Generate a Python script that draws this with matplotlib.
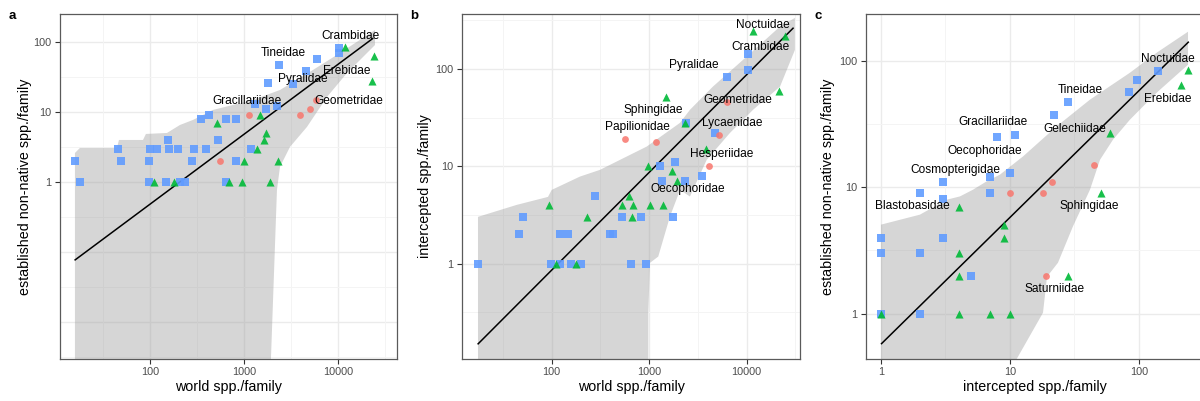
import numpy as np
import matplotlib
matplotlib.use("Agg")
import matplotlib.pyplot as plt
from matplotlib.ticker import FixedLocator, NullFormatter

plt.rcParams['font.family'] = ['Liberation Sans', 'DejaVu Sans']

BLUE = '#619CFF'
GREEN = '#00BA38'
RED = '#F8766D'

# ---------------- Panel a: world spp. vs established spp. ----------------
a_blue_x = [16, 18, 46, 49, 98, 98, 100, 120, 156, 160, 148, 200, 209, 238, 277, 296, 345, 394,
            525, 425, 638, 816, 1309, 1713, 2262, 816, 638, 1178, 1820, 2360, 3320, 4570, 6020,
            10200, 10200]
a_blue_y = [2, 1, 3, 2, 2, 1, 3, 3, 4, 3, 1, 3, 1, 1, 2, 3, 8, 3,
            4, 9, 8, 8, 13, 11, 12, 2, 1, 3, 26, 47, 25, 38, 57,
            81, 69]
a_green_x = [111, 180, 513, 1480, 690, 944, 1006, 1380, 1645, 1713, 2280, 1900, 11800, 24000, 23000]
a_green_y = [1, 1, 7, 9, 1, 1, 2, 3, 4, 5, 2, 1, 85, 64, 27.7]
a_red_x = [556, 1137, 3990, 5100, 5900]
a_red_y = [2, 9, 9, 11, 15]
a_labels = ['Crambidae', 'Tineidae', 'Pyralidae', 'Erebidae', 'Gracillariidae', 'Geometridae']
a_label_x = [13500, 2600, 4270, 12500, 1075, 12900]
a_label_y = [122, 70, 29.6, 38.9, 14.5, 14.5]
a_line_x = [16, 23400]
a_line_y = [0.077, 112]
# ribbon (log10 values)
a_rib_up_lx = [1.202, 1.255, 1.649, 1.670, 1.926, 1.957, 2.181, 2.319, 2.457, 2.67, 3.096, 3.383, 3.734, 4.021, 4.394]
a_rib_up_ly = [0.414, 0.486, 0.486, 0.6, 0.6, 0.686, 0.7, 0.814, 0.886, 1.029, 1.171, 1.314, 1.6, 1.843, 2.171]
a_rib_lo_lx = [1.202, 3.28, 3.287, 3.351, 3.383, 3.489, 3.670, 3.883, 4.096, 4.394]
a_rib_lo_ly = [-3.0, -3.0, -2.529, -0.114, 0.214, 0.5, 0.786, 1.214, 1.557, 1.957]

# ---------------- Panel b: world spp. vs intercepted spp. ----------------
b_blue_x = [17.4, 51, 46, 98, 122, 123, 148, 157, 200, 278, 530, 824, 1740, 396, 428, 646, 927,
            1343, 2330, 1290, 1860, 3450, 2380, 4730, 6240, 10400, 10400]
b_blue_y = [1, 3, 2, 1, 1, 2, 2, 1, 1, 5, 3, 3, 3, 2, 2, 1, 1,
            7, 7, 10, 11, 8, 28, 22, 83, 98, 142]
b_green_x = [93, 111, 177, 228, 625, 522, 676, 1018, 1396, 661, 1941, 979, 1700, 3800, 2330, 1475,
             11700, 24600, 21500]
b_green_y = [4, 1, 1, 3, 5, 4, 4, 4, 4, 3, 7, 10, 9, 15, 28, 52, 249, 218, 59]
b_red_x = [565, 1175, 4130, 5250, 6240]
b_red_y = [19, 18, 10, 21, 46]
b_labels = ['Noctuidae', 'Crambidae', 'Pyralidae', 'Geometridae', 'Sphingidae', 'Papilionidae',
            'Lycaenidae', 'Hesperiidae', 'Oecophoridae']
b_label_x = [14700, 14000, 2840, 8150, 1094, 759, 7060, 5590, 2500]
b_label_y = [283, 169, 110, 48, 37.9, 25.2, 27.7, 13.4, 5.8]
b_line_x = [17.6, 29900]
b_line_y = [0.15, 263]
b_rib_up_lx = [1.244, 1.641, 1.962, 2.0, 2.29, 2.495, 2.974, 3.316, 3.418, 3.654, 4.0, 4.342, 4.495]
b_rib_up_ly = [0.481, 0.604, 0.686, 0.758, 0.895, 0.964, 1.203, 1.447, 1.581, 1.82, 2.128, 2.437, 2.526]
b_rib_lo_lx = [1.244, 2.991, 2.991, 3.008, 3.093, 3.213, 3.317, 3.418, 3.59, 3.829, 4.065, 4.342, 4.495]
b_rib_lo_ly = [-1.2, -1.2, -0.5, 0.008, 0.073, 0.484, 0.758, 0.69, 1.067, 1.344, 1.581, 1.82, 2.197]

# ---------------- Panel c: intercepted spp. vs established spp. ----------------
c_blue_x = [1, 1, 1, 2, 2, 2, 3, 3, 5, 3, 7, 7, 8, 11, 10, 22, 28, 83, 96, 141]
c_blue_y = [1, 3, 4, 3, 1, 9, 8, 4, 2, 11, 12, 9, 25, 26, 13, 37, 47, 57, 70, 83]
c_green_x = [1, 4, 4, 4, 4, 7, 10, 9, 9, 28, 51, 60, 241, 210]
c_green_y = [1, 7, 3, 2, 1, 1, 1, 5, 4, 2, 9, 27, 85, 64]
c_red_x = [10, 18, 21, 45, 19]
c_red_y = [9, 9, 11, 15, 2]
c_labels = ['Noctuidae', 'Erebidae', 'Tineidae', 'Gelechiidae', 'Gracillariidae', 'Oecophoridae',
            'Cosmopterigidae', 'Blastobasidae', 'Sphingidae', 'Saturniidae']
c_label_x = [168, 167, 35, 32, 7.4, 6.4, 3.75, 1.74, 41, 22.3]
c_label_y = [103, 49.8, 59, 28.8, 32.5, 19.4, 13.7, 7.05, 7.05, 1.57]
c_line_x = [1.01, 241]
c_line_y = [0.58, 140]
c_rib_up_lx = [0.0, 0.302, 0.509, 0.612, 0.713, 0.819, 0.922, 1.101, 1.362, 1.620, 1.930, 2.137, 2.380]
c_rib_up_ly = [0.704, 0.783, 0.901, 0.927, 0.980, 1.046, 1.099, 1.243, 1.481, 1.692, 1.905, 2.063, 2.229]
c_rib_lo_lx = [0.0, 1.0, 1.052, 1.256, 1.287, 1.372, 1.488, 1.620, 1.698, 1.798, 1.930, 2.137, 2.380]
c_rib_lo_ly = [-0.6, -0.6, -0.358, 0.008, 0.292, 0.403, 0.690, 0.980, 1.217, 1.375, 1.534, 1.747, 1.968]

panels = [
    dict(tag='a', pos=[60, 397], xlim=(1.043, 4.628), ylim=(-2.53, 2.40),
         xticks=[100, 1000, 10000], yticks=[1, 10, 100],
         xlabel='world spp./family', ylabel='established non-native spp./family', ylx=25,
         blue=(a_blue_x, a_blue_y), green=(a_green_x, a_green_y), red=(a_red_x, a_red_y),
         labels=(a_labels, a_label_x, a_label_y), line=(a_line_x, a_line_y),
         rib=(a_rib_up_lx, a_rib_up_ly, a_rib_lo_lx, a_rib_lo_ly)),
    dict(tag='b', pos=[462, 800], xlim=(1.08, 4.547), ylim=(-0.98, 2.566),
         xticks=[100, 1000, 10000], yticks=[1, 10, 100],
         xlabel='world spp./family', ylabel='intercepted spp./family', ylx=425,
         blue=(b_blue_x, b_blue_y), green=(b_green_x, b_green_y), red=(b_red_x, b_red_y),
         labels=(b_labels, b_label_x, b_label_y), line=(b_line_x, b_line_y),
         rib=(b_rib_up_lx, b_rib_up_ly, b_rib_lo_lx, b_rib_lo_ly)),
    dict(tag='c', pos=[866, 1203.5], xlim=(-0.116, 2.5), ylim=(-0.358, 2.369),
         xticks=[1, 10, 100], yticks=[1, 10, 100],
         xlabel='intercepted spp./family', ylabel='established non-native spp./family', ylx=828,
         blue=(c_blue_x, c_blue_y), green=(c_green_x, c_green_y), red=(c_red_x, c_red_y),
         labels=(c_labels, c_label_x, c_label_y), line=(c_line_x, c_line_y),
         rib=(c_rib_up_lx, c_rib_up_ly, c_rib_lo_lx, c_rib_lo_ly)),
]

W, H = 1200, 401
fig = plt.figure(figsize=(12, 4.01), dpi=100)
top_px, bot_px = 14, 359

for p in panels:
    l, r = p['pos']
    ax = fig.add_axes([l / W, (H - bot_px) / H, (r - l) / W, (bot_px - top_px) / H])
    ax.set_xscale('log')
    ax.set_yscale('log')
    ax.set_xlim(10 ** p['xlim'][0], 10 ** p['xlim'][1])
    ax.set_ylim(10 ** p['ylim'][0], 10 ** p['ylim'][1])

    # grid
    maj = [10.0 ** k for k in range(-3, 6)]
    mnr = [10.0 ** (k + 0.5) for k in range(-3, 6)]
    for v in maj:
        ax.axvline(v, color='#EBEBEB', lw=1.0, zorder=0)
        ax.axhline(v, color='#EBEBEB', lw=1.0, zorder=0)
    for v in mnr:
        ax.axvline(v, color='#F4F4F4', lw=0.7, zorder=0)
        ax.axhline(v, color='#F4F4F4', lw=0.7, zorder=0)

    # ribbon
    ux, uy, lx, ly = p['rib']
    px = np.concatenate([np.array(ux), np.array(lx)[::-1]])
    py = np.concatenate([np.array(uy), np.array(ly)[::-1]])
    ax.fill(10 ** px, 10 ** py, color='#999999', alpha=0.4, lw=0, zorder=1)

    # line
    ax.plot(p['line'][0], p['line'][1], color='black', lw=1.1, zorder=2)

    # points
    ax.scatter(p['blue'][0], p['blue'][1], marker='s', s=26, color=BLUE, alpha=0.9, lw=0, zorder=3)
    ax.scatter(p['red'][0], p['red'][1], marker='o', s=24, color=RED, alpha=0.85, lw=0, zorder=3)
    ax.scatter(p['green'][0], p['green'][1], marker='^', s=34, color=GREEN, alpha=0.9, lw=0, zorder=3)

    names, lx_, ly_ = p['labels']
    for n, x, y in zip(names, lx_, ly_):
        ax.text(x, y, n, ha='center', va='center', fontsize=8.6, color='black', zorder=4)

    ax.xaxis.set_major_locator(FixedLocator(p['xticks']))
    ax.yaxis.set_major_locator(FixedLocator(p['yticks']))
    ax.xaxis.set_minor_locator(FixedLocator([]))
    ax.yaxis.set_minor_locator(FixedLocator([]))
    ax.set_xticklabels([str(v) for v in p['xticks']])
    ax.set_yticklabels([str(v) for v in p['yticks']])
    ax.xaxis.set_minor_formatter(NullFormatter())
    ax.yaxis.set_minor_formatter(NullFormatter())
    ax.tick_params(axis='both', which='major', length=3.5, width=0.8, color='#333333',
                   labelsize=7.8, labelcolor='#4D4D4D', pad=2.5)
    for s in ax.spines.values():
        s.set_color('#5A5A5A')
        s.set_linewidth(0.9)

    ax.set_xlabel(p['xlabel'], fontsize=10.3)
    ax.xaxis.set_label_coords(0.5, (bot_px - 387) / (bot_px - top_px))
    ax.xaxis.label.set_va('center')
    ax.set_ylabel(p['ylabel'], fontsize=10.3)
    ax.yaxis.set_label_coords((p['ylx'] - l) / (r - l), 0.5)
    ax.yaxis.label.set_va('center')

    fig.text((l - 48) / W, 1 - 15.7 / H, p['tag'], fontsize=9.5, fontweight='bold',
             ha='center', va='center')

fig.savefig('out.png', dpi=100)
